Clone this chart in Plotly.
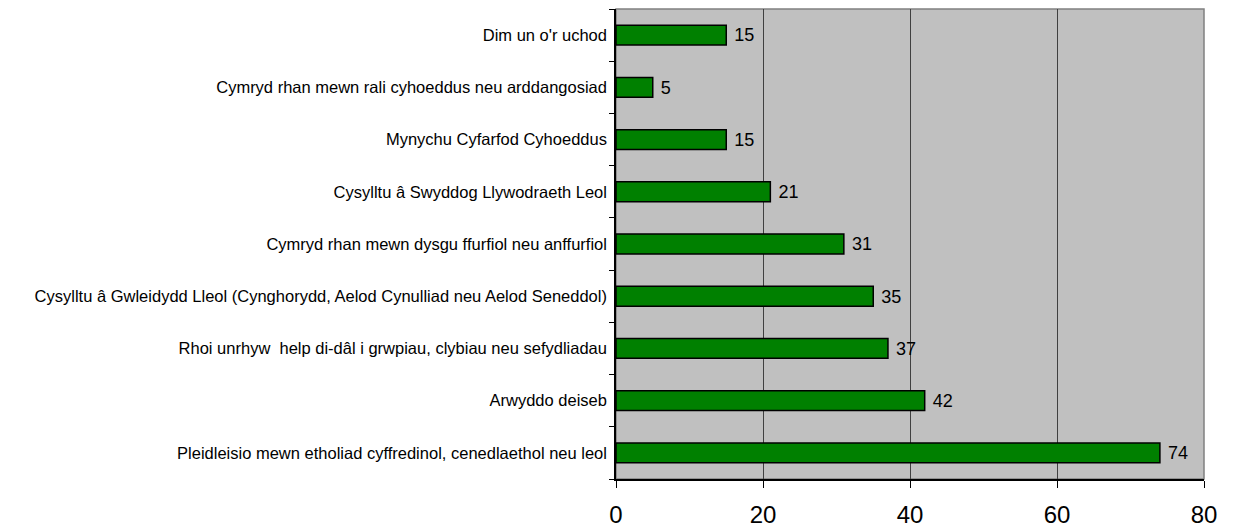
import plotly.graph_objects as go

# categories listed bottom to top, as plotly draws them
categories = [
    "Pleidleisio mewn etholiad cyffredinol, cenedlaethol neu leol",
    "Arwyddo deiseb",
    "Rhoi unrhyw  help di-dâl i grwpiau, clybiau neu sefydliadau",
    "Cysylltu â Gwleidydd Lleol (Cynghorydd, Aelod Cynulliad neu Aelod Seneddol)",
    "Cymryd rhan mewn dysgu ffurfiol neu anffurfiol",
    "Cysylltu â Swyddog Llywodraeth Leol",
    "Mynychu Cyfarfod Cyhoeddus",
    "Cymryd rhan mewn rali cyhoeddus neu arddangosiad",
    "Dim un o'r uchod",
]
values = [74, 42, 37, 35, 31, 21, 15, 5, 15]
x_ticks = [0, 20, 40, 60, 80]

font = "Liberation Sans, Arial, sans-serif"

fig = go.Figure(go.Bar(
    x=values,
    y=categories,
    orientation="h",
    width=0.38,
    marker=dict(color="#008000", line=dict(color="#000000", width=1.5)),
    text=[str(v) for v in values],
    texttemplate=" %{text}",
    textposition="outside",
    cliponaxis=False,
    textfont=dict(family=font, size=20, color="#000000"),
))

# page body has an 8px margin, so the figure is 8px smaller each way
fig.update_layout(
    width=1225, height=519,
    margin=dict(l=608, r=29, t=1, b=48),
    paper_bgcolor="white",
    plot_bgcolor="#C0C0C0",
    showlegend=False,
    font=dict(family=font, color="#000000"),
    shapes=[dict(type="rect", xref="paper", yref="paper", x0=0, x1=1, y0=0, y1=1,
                 line=dict(color="#808080", width=1.5), layer="below")],
    xaxis=dict(
        range=[0, 80], tickvals=x_ticks,
        showgrid=True, gridcolor="#404040", gridwidth=1,
        showline=True, linecolor="#000000", linewidth=1.5,
        ticks="outside", ticklen=7, tickcolor="#000000",
        ticklabelstandoff=6,
        tickfont=dict(size=24, family=font),
        zeroline=False, fixedrange=True, automargin=False,
    ),
    yaxis=dict(
        showgrid=False,
        showline=True, linecolor="#000000", linewidth=1.5,
        ticks="outside", ticklen=5, tickcolor="#000000",
        tickson="boundaries",
        ticklabelstandoff=4,
        tickfont=dict(size=16.5, family=font),
        fixedrange=True, automargin=False,
    ),
)

fig.write_html("out.html")
